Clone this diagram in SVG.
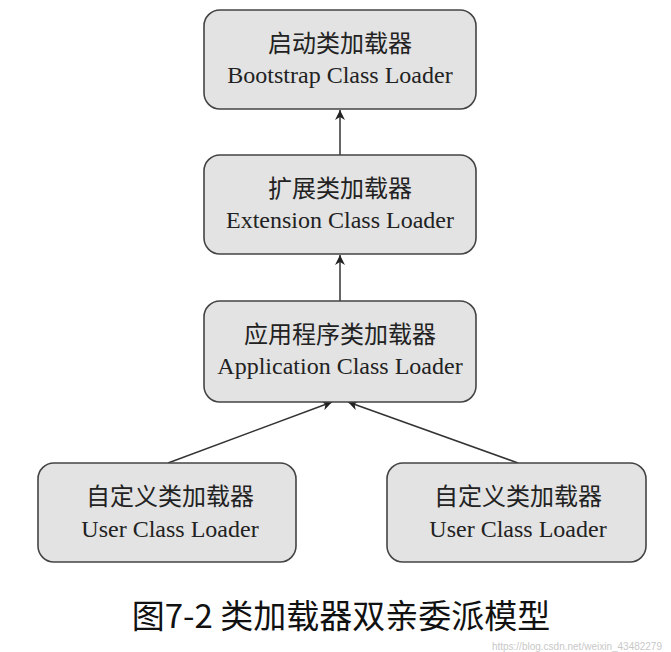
<svg xmlns="http://www.w3.org/2000/svg" width="671" height="652" viewBox="0 0 671 652">
<style>
.box{fill:#e3e3e3;stroke:#444;stroke-width:1.6}
.t{font-family:"Liberation Serif","Noto Sans CJK SC",serif;font-size:24px;fill:#222;text-anchor:middle}
.c{stroke:#333;stroke-width:1.5;fill:none}
</style>
<defs><marker id="a" viewBox="0 0 10 10" refX="10" refY="5" markerWidth="10" markerHeight="10" orient="auto" markerUnits="userSpaceOnUse"><path d="M0,0L10,5L0,10L3,5Z" fill="#222"/></marker></defs>
<rect width="671" height="652" fill="#fff"/>
<g id="connectors">
<line class="c" x1="340" y1="155" x2="340" y2="110" marker-end="url(#a)"/>
<line class="c" x1="340" y1="301" x2="340" y2="255" marker-end="url(#a)"/>
<line class="c" x1="168" y1="463" x2="332" y2="402" marker-end="url(#a)"/>
<line class="c" x1="518" y1="463" x2="348" y2="402" marker-end="url(#a)"/>
</g>
<g id="bootstrap"><rect class="box" x="204" y="10" width="272" height="99" rx="16"/><text class="t" x="340" y="52">启动类加载器</text><text class="t" x="340" y="83">Bootstrap Class Loader</text></g>
<g id="extension"><rect class="box" x="204" y="155" width="272" height="99" rx="16"/><text class="t" x="340" y="197">扩展类加载器</text><text class="t" x="340" y="228">Extension Class Loader</text></g>
<g id="application"><rect class="box" x="204" y="301" width="272" height="101" rx="16"/><text class="t" x="340" y="343">应用程序类加载器</text><text class="t" x="340" y="374">Application Class Loader</text></g>
<g id="user1"><rect class="box" x="38" y="463" width="258" height="99" rx="16"/><text class="t" x="170" y="505">自定义类加载器</text><text class="t" x="170" y="537">User Class Loader</text></g>
<g id="user2"><rect class="box" x="387" y="463" width="259" height="99" rx="16"/><text class="t" x="518" y="505">自定义类加载器</text><text class="t" x="518" y="537">User Class Loader</text></g>
<text x="341" y="628" font-family="Noto Sans CJK SC,sans-serif" font-size="33" fill="#111" text-anchor="middle">图7-2 类加载器双亲委派模型</text>
<text x="662" y="650" font-family="Liberation Sans,sans-serif" font-size="10" fill="#c8c8c8" text-anchor="end">https://blog.csdn.net/weixin_43482279</text>
</svg>
